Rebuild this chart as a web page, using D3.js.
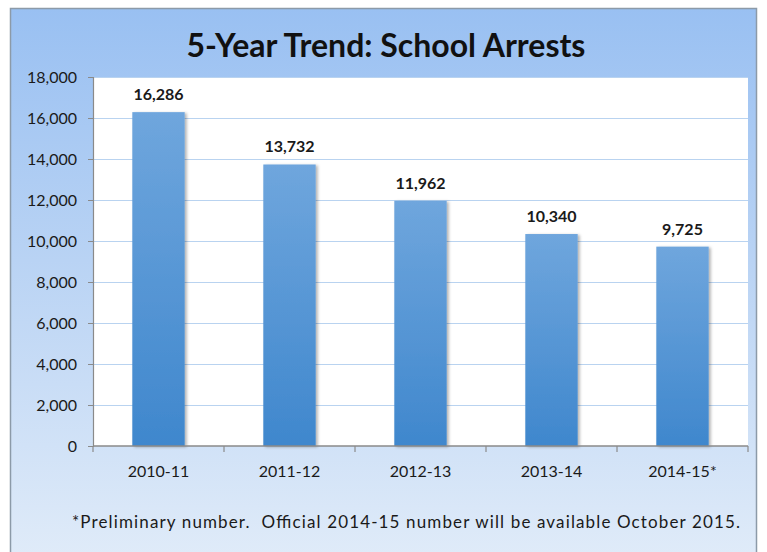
<!DOCTYPE html>
<html>
<head>
<meta charset="utf-8">
<script src="https://cdn.jsdelivr.net/npm/d3@7"></script>
<style>
  html, body { margin: 0; padding: 0; background: #ffffff; }
  svg { display: block; font-family: Lato, "Open Sans", sans-serif; }
</style>
</head>
<body>
<svg id="chart" width="767" height="552"></svg>
<script>
// School arrests by school year
const years = ["2010-11", "2011-12", "2012-13", "2013-14", "2014-15*"];
const arrests = [16286, 13732, 11962, 10340, 9725];
const yTicks = [0, 2000, 4000, 6000, 8000, 10000, 12000, 14000, 16000, 18000];
const titleText = "5-Year Trend: School Arrests";
const footnote = "*Preliminary number.  Official 2014-15 number will be available October 2015.";

const svg = d3.select("#chart");
const plot = { left: 93, right: 748, top: 77, bottom: 446 };

const defs = svg.append("defs");
const bg = defs.append("linearGradient").attr("id", "bgGrad")
  .attr("x1", 0).attr("y1", 0).attr("x2", 0).attr("y2", 1);
bg.append("stop").attr("offset", "0%").attr("stop-color", "#99c0f2");
bg.append("stop").attr("offset", "45%").attr("stop-color", "#b9d3f4");
bg.append("stop").attr("offset", "100%").attr("stop-color", "#e1ecf9");

const barGrad = defs.append("linearGradient").attr("id", "barGrad")
  .attr("x1", 0).attr("y1", 0).attr("x2", 0).attr("y2", 1);
barGrad.append("stop").attr("offset", "0%").attr("stop-color", "#6fa6dd");
barGrad.append("stop").attr("offset", "100%").attr("stop-color", "#3f87cd");

const shadow = defs.append("filter").attr("id", "barShadow")
  .attr("x", "-20%").attr("y", "-5%").attr("width", "150%").attr("height", "115%");
shadow.append("feDropShadow").attr("dx", 2).attr("dy", 1).attr("stdDeviation", 1.5)
  .attr("flood-color", "#000").attr("flood-opacity", 0.3);

// Outer frame
svg.append("rect").attr("x", 10.5).attr("y", 8.5).attr("width", 746).attr("height", 560)
  .attr("fill", "url(#bgGrad)").attr("stroke", "#8c9aa8").attr("stroke-width", 1.5);

// Plot area
svg.append("rect").attr("x", plot.left).attr("y", plot.top)
  .attr("width", plot.right - plot.left).attr("height", plot.bottom - plot.top)
  .attr("fill", "#ffffff");

const x = d3.scaleBand().domain(years).range([plot.left, plot.right]).paddingInner(0.6).paddingOuter(0.3);
const y = d3.scaleLinear().domain([0, 18000]).range([plot.bottom, plot.top]);

// Gridlines
svg.append("g").selectAll("line").data(yTicks.filter(d => d > 0)).join("line")
  .attr("x1", plot.left).attr("x2", plot.right)
  .attr("y1", d => y(d) + 0.5).attr("y2", d => y(d) + 0.5)
  .attr("stroke", "#b9d3f0").attr("stroke-width", 1.2);

// Bars
svg.append("g").selectAll("rect").data(arrests).join("rect")
  .attr("x", (d, i) => x(years[i]))
  .attr("y", d => y(d))
  .attr("width", x.bandwidth())
  .attr("height", d => y(0) - y(d))
  .attr("fill", "url(#barGrad)")
  .attr("filter", "url(#barShadow)");

// Value labels
svg.append("g").selectAll("text").data(arrests).join("text")
  .attr("x", (d, i) => x(years[i]) + x.bandwidth() / 2)
  .attr("y", d => y(d) - 12)
  .attr("text-anchor", "middle")
  .attr("font-size", 16).attr("font-weight", "bold").attr("fill", "#1a1a1a")
  .text(d => d3.format(",")(d));

// Y axis
const yAxis = svg.append("g").attr("transform", `translate(${plot.left},0)`)
  .call(d3.axisLeft(y).tickValues(yTicks).tickSize(5).tickPadding(11).tickFormat(d3.format(",")));
yAxis.select(".domain").attr("stroke", "#8a8a8a").attr("stroke-width", 1.2);
yAxis.selectAll(".tick line").attr("stroke", "#8a8a8a");
yAxis.selectAll(".tick text").attr("font-size", 16).attr("fill", "#1a1a1a")
  .attr("font-family", "Lato, sans-serif");

// X axis with boundary ticks between categories
const xAxisG = svg.append("g").attr("transform", `translate(0,${plot.bottom})`);
xAxisG.append("line").attr("x1", plot.left).attr("x2", plot.right)
  .attr("stroke", "#8a8a8a").attr("stroke-width", 1.5);
const boundaries = d3.range(years.length + 1).map(i => plot.left + i * (plot.right - plot.left) / years.length);
xAxisG.selectAll("line.tick").data(boundaries).join("line").attr("class", "tick")
  .attr("x1", d => d).attr("x2", d => d).attr("y1", 0).attr("y2", 6)
  .attr("stroke", "#8a8a8a").attr("stroke-width", 1.2);
xAxisG.selectAll("text").data(years).join("text")
  .attr("x", d => x(d) + x.bandwidth() / 2)
  .attr("y", 31)
  .attr("text-anchor", "middle")
  .attr("font-size", 16).attr("fill", "#1a1a1a")
  .text(d => d);

// Title
svg.append("text").attr("x", 386).attr("y", 57).attr("text-anchor", "middle")
  .attr("font-size", 32).attr("font-weight", "bold").attr("fill", "#111")
  .text(titleText);

// Footnote
svg.append("text").attr("x", 72).attr("y", 528)
  .attr("font-size", 17).attr("fill", "#1a1a1a")
  .attr("xml:space", "preserve")
  .attr("textLength", 668).attr("lengthAdjust", "spacing")
  .text(footnote);
</script>
</body>
</html>
